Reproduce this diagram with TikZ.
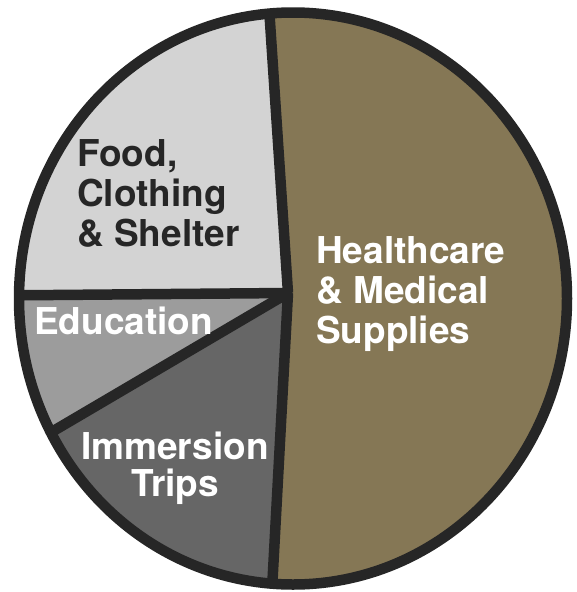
\documentclass[tikz,border=0pt]{standalone}
\usepackage{fontspec}
\setmainfont{TeX Gyre Heros}
\definecolor{pieolive}{HTML}{857755}
\definecolor{pielight}{HTML}{D3D3D3}
\definecolor{piemid}{HTML}{9C9C9C}
\definecolor{piedark}{HTML}{666666}
\definecolor{pieline}{HTML}{262626}
\tikzset{
  sep/.style={draw=pieline, line width=10.5pt, line cap=butt},
  lab/.style={font=\bfseries\fontsize{37}{39.8}\selectfont, inner sep=0pt, align=left},
}
\begin{document}
\begin{tikzpicture}[x=1pt, y=-1pt, line join=round]
\useasboundingbox (0,0) rectangle (577,592);
\coordinate (E) at (293,298.5);
\coordinate (C) at (288,293);
\coordinate (T) at (250,-279);
\coordinate (L) at (-300,298);
\coordinate (LL) at (-178,567);
\coordinate (B) at (256,887);
\begin{scope}
  \clip (E) ellipse [x radius=274pt, y radius=286pt];
  \fill[pieolive] (-10,-10) rectangle (600,600);
  \fill[pielight] (C) -- (T) -- (-300,-279) -- (L) -- cycle;
  \fill[piemid] (C) -- (L) -- (LL) -- cycle;
  \fill[piedark] (C) -- (LL) -- (-178,887) -- (B) -- cycle;
  \draw[sep] (C) -- (T);
  \draw[sep] (C) -- (L);
  \draw[sep] (C) -- (LL);
  \draw[sep] (C) -- (B);
\end{scope}
\draw[sep] (E) ellipse [x radius=274pt, y radius=286pt];
\node[lab, text=pieline, anchor=north west] (food) at (77,139.5) {Food,\\Clothing\\\& Shelter};
\node[lab, text=white, anchor=north west] (health) at (316,236.5) {Healthcare\\\& Medical\\Supplies};
\node[lab, text=white, anchor=north west] (edu) at (34,307) {Education};
\node[lab, text=white, anchor=north, align=center, font=\bfseries\fontsize{37}{36.5}\selectfont] (imm) at (175,432) {Immersion\\Trips};
\end{tikzpicture}
\end{document}
